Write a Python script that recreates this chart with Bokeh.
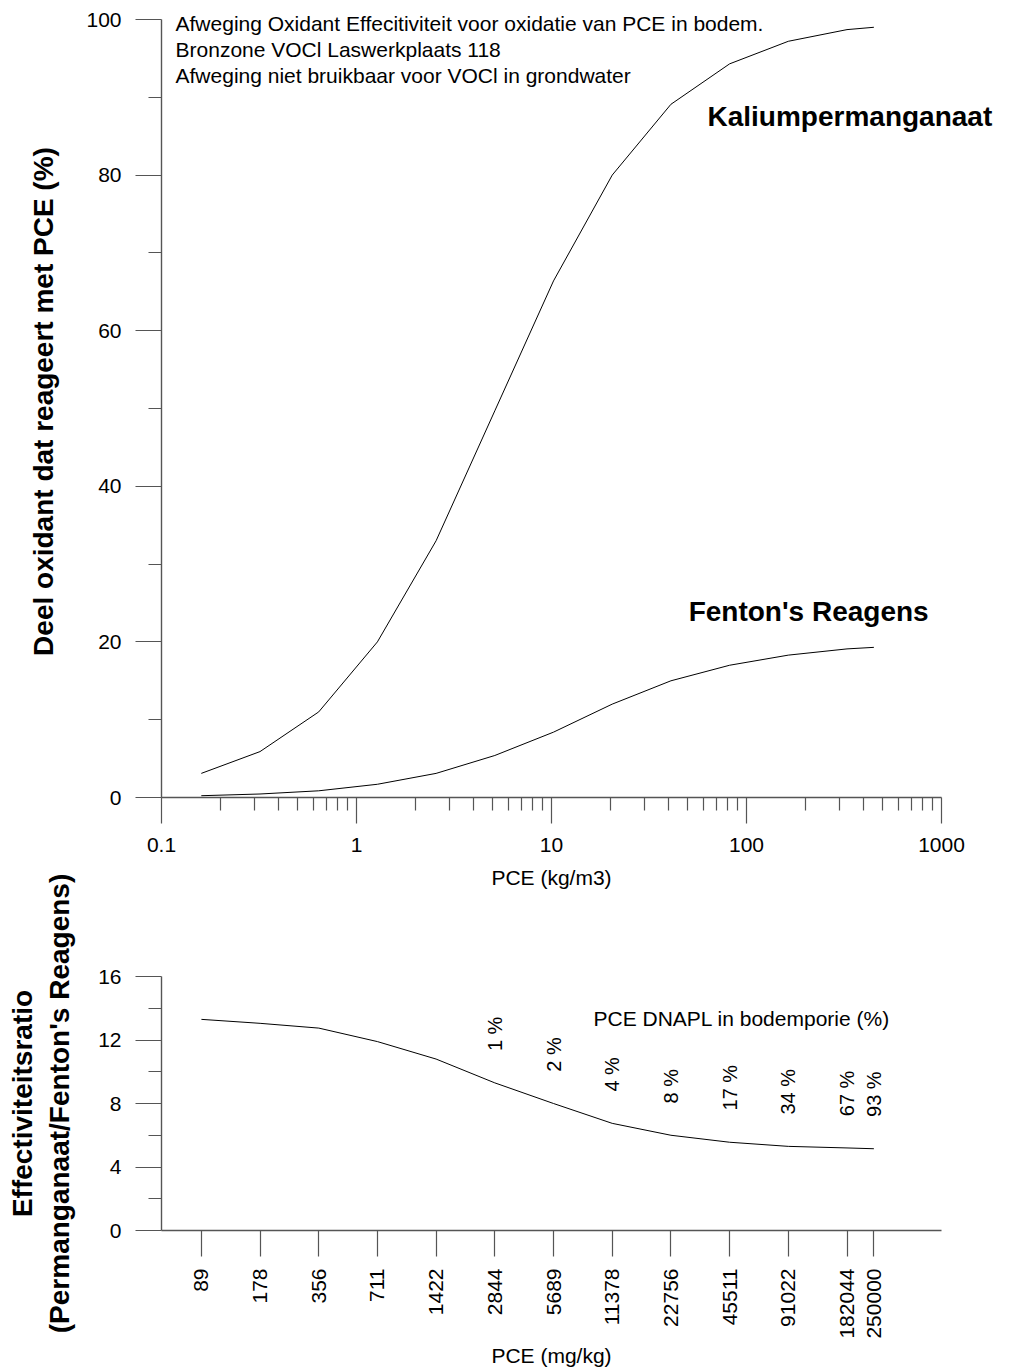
from math import pi
from bokeh.plotting import figure
from bokeh.models import Range1d, FixedTicker, CustomJSTickFormatter, ColumnDataSource, LogAxis
from bokeh.core.properties import value
from bokeh.embed import file_html
from bokeh.resources import INLINE

# ---------------- data ----------------
pce_kgm3 = [0.16, 0.32, 0.64, 1.28, 2.56, 5.12, 10.24, 20.48, 40.96, 81.92, 163.84, 327.68, 450]
kmno4 = [3.1, 5.9, 11.0, 20.0, 33.0, 49.7, 66.4, 80.0, 89.1, 94.3, 97.2, 98.7, 99.0]
fenton = [0.23, 0.45, 0.86, 1.7, 3.1, 5.4, 8.4, 12.0, 15.0, 17.0, 18.3, 19.1, 19.3]

pce_mgkg = [89, 178, 356, 711, 1422, 2844, 5689, 11378, 22756, 45511, 91022, 182044, 250000]
ratio = [13.3, 13.05, 12.75, 11.9, 10.8, 9.3, 8.0, 6.75, 6.0, 5.56, 5.3, 5.2, 5.15]

dnapl_mgkg = [2844, 5689, 11378, 22756, 45511, 91022, 182044, 250000]
dnapl_ratio = [9.3, 8.0, 6.75, 6.0, 5.56, 5.3, 5.2, 5.15]
dnapl_labels = ["1 %", "2 %", "4 %", "8 %", "17 %", "34 %", "67 %", "93 %"]

top_x_ticks = [0.1, 1, 10, 100, 1000]
top_y_ticks = [0, 20, 40, 60, 80, 100]
top_y_minor = [10, 30, 50, 70, 90]
bot_y_ticks = [0, 4, 8, 12, 16]
bot_y_minor = [2, 6, 10, 14]

title_lines = [
    "Afweging Oxidant Effecitiviteit voor oxidatie van PCE in bodem.",
    "Bronzone VOCl Laswerkplaats 118",
    "Afweging niet bruikbaar voor VOCl in grondwater",
]

FONT = "Liberation Sans"
AX = "#555555"


def style_axis(ax, label_size="21px"):
    ax.axis_line_color = AX
    ax.axis_line_width = 1.4
    ax.major_tick_line_color = AX
    ax.minor_tick_line_color = AX
    ax.major_tick_line_width = 1.2
    ax.minor_tick_line_width = 1.2
    ax.major_tick_in = 0
    ax.minor_tick_in = 0
    ax.major_tick_out = 26
    ax.minor_tick_out = 13
    ax.major_label_text_font = FONT
    ax.major_label_text_font_size = label_size
    ax.major_label_text_color = "black"
    ax.axis_label_text_font = FONT
    ax.axis_label_text_color = "black"


def add_text(p, xs, ys, texts, size="21px", bold=False, **kw):
    p.text(x=xs, y=ys, text=texts, text_font=value(FONT), text_font_size=size,
           text_font_style="bold" if bold else "normal", text_color="black", **kw)


# ---------------- top plot ----------------
# frame slightly larger than the drawn axes (axis bounds limit them) so that
# annotation texts may overhang the 0.1-1000 / 0-100 box like in the reference
TOP_H = 862
X_PX_PER_DECADE = 195.0
Y_PX_PER_UNIT = 7.78
top_x_end = 10 ** (-1 + (1000 - 161) / X_PX_PER_DECADE)
top_y_end = (797 - 5) / Y_PX_PER_UNIT

top = figure(width=1015, height=TOP_H, x_axis_type="log",
             x_range=Range1d(0.1, top_x_end), y_range=Range1d(0, top_y_end),
             output_backend="svg", toolbar_location=None,
             min_border_left=161, min_border_right=15,
             min_border_top=5, min_border_bottom=TOP_H - 797)
top.outline_line_color = None
top.xgrid.visible = False
top.ygrid.visible = False

minor_log = [m * 10 ** e for e in (-1, 0, 1, 2) for m in range(2, 10)]
top.xaxis.ticker = FixedTicker(ticks=top_x_ticks, minor_ticks=minor_log)
top.xaxis.formatter = CustomJSTickFormatter(code="return String(tick)")
top.yaxis.ticker = FixedTicker(ticks=top_y_ticks, minor_ticks=top_y_minor)
top.xaxis.bounds = (0.1, 1000)
top.yaxis.bounds = (0, 100)
for ax in (top.xaxis[0], top.yaxis[0]):
    style_axis(ax)
top.xaxis.major_label_standoff = 14
top.yaxis.major_label_standoff = 14
top.yaxis.axis_label = "Deel oxidant dat reageert met PCE (%)"
top.yaxis.axis_label_text_font_size = "28px"
top.yaxis.axis_label_text_font_style = "bold"
top.yaxis.axis_label_standoff = 24

top.line(pce_kgm3, kmno4, line_color="black", line_width=1)
top.line(pce_kgm3, fenton, line_color="black", line_width=1)

add_text(top, [0.118] * 3, [99.46, 96.16, 92.76], title_lines,
         text_align="left", text_baseline="alphabetic")
add_text(top, [63.1], [87.5], ["Kaliumpermanganaat"], size="28px", bold=True,
         text_align="left", text_baseline="alphabetic")
add_text(top, [50.5], [23.9], ["Fenton's Reagens"], size="28px", bold=True,
         text_align="left", text_baseline="alphabetic")

# ---------------- bottom plot ----------------
BOT_H = 1369 - TOP_H
bot = figure(width=1015, height=BOT_H, x_axis_type="log",
             x_range=Range1d(0.1 / 0.0018, 1000 / 0.0018), y_range=Range1d(0, 16),
             output_backend="svg", toolbar_location=None,
             min_border_left=161, min_border_right=74,
             min_border_top=975 - TOP_H, min_border_bottom=1369 - 1231)
bot.outline_line_color = None
bot.xgrid.visible = False
bot.ygrid.visible = False

bot.xaxis.ticker = FixedTicker(ticks=pce_mgkg, minor_ticks=[])
bot.xaxis.formatter = CustomJSTickFormatter(code="return String(tick)")
bot.xaxis.major_label_orientation = pi / 2
bot.yaxis.ticker = FixedTicker(ticks=bot_y_ticks, minor_ticks=bot_y_minor)
for ax in (bot.xaxis[0], bot.yaxis[0]):
    style_axis(ax)
bot.xaxis.major_label_standoff = 12
bot.yaxis.major_label_standoff = 14
bot.xaxis.axis_label = "PCE (mg/kg)"
bot.xaxis.axis_label_text_font_size = "21px"
bot.xaxis.axis_label_text_font_style = "normal"
bot.xaxis.axis_label_standoff = 2
bot.yaxis.axis_label = "Effectiviteitsratio\n(Permanganaat/Fenton's Reagens)"
bot.yaxis.axis_label_text_font_size = "28px"
bot.yaxis.axis_label_text_font_style = "bold"
bot.yaxis.axis_label_standoff = 20

# title of the upper chart's x axis, carried by an invisible axis above the lower frame
kg_axis = LogAxis(ticker=FixedTicker(ticks=[]), axis_label="PCE (kg/m3)")
style_axis(kg_axis)
kg_axis.axis_line_color = None
kg_axis.major_tick_line_color = None
kg_axis.minor_tick_line_color = None
kg_axis.major_tick_out = 0
kg_axis.minor_tick_out = 0
kg_axis.major_label_text_font_size = "0px"
kg_axis.major_label_standoff = 0
kg_axis.axis_label_text_font_size = "21px"
kg_axis.axis_label_text_font_style = "normal"
kg_axis.axis_label_standoff = 88
bot.add_layout(kg_axis, "above")

bot.line(pce_mgkg, ratio, line_color="black", line_width=1)

src = ColumnDataSource(dict(x=dnapl_mgkg, y=[r + 2.0 for r in dnapl_ratio], t=dnapl_labels))
bot.text(x="x", y="y", text="t", source=src, angle=pi / 2,
         text_font=value(FONT), text_font_size="20px", text_color="black",
         text_align="left", text_baseline="middle")
add_text(bot, [9120], [13.37], ["PCE DNAPL in bodemporie (%)"],
         text_align="left", text_baseline="alphabetic")

# two separate roots, stacked: keeps each chart's own borders
open("out.html", "w").write(file_html([top, bot], INLINE))
